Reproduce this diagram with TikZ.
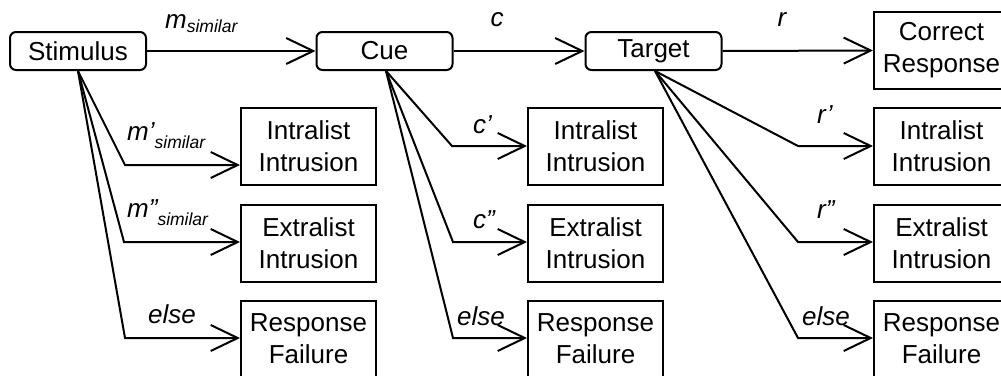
\documentclass[tikz,border=0pt]{standalone}
\usepackage{fontspec}
\setmainfont{Liberation Sans}
\usetikzlibrary{arrows.meta}
\newcommand{\subsm}[1]{{\fontsize{17.5}{18}\selectfont #1}}
\begin{document}
\begin{tikzpicture}[x=1pt,y=-1pt,
  every node/.style={font=\fontsize{26}{32}\selectfont},
  rbox/.style={draw,line width=2pt,rounded corners=6pt,minimum width=136pt,minimum height=38pt,inner sep=0pt},
  sbox/.style={draw,line width=2pt,minimum width=135pt,minimum height=77pt,inner sep=0pt,align=center},
  lab/.style={anchor=base west,inner sep=0pt,font=\fontsize{26}{32}\selectfont\itshape},
  arr/.style={line width=2pt,-{Straight Barb[length=27pt,width=26pt,line width=2pt]}}]
\clip (0,0) rectangle (1001,375);
\fill[white] (0,0) rectangle (1001,375);
% main row
\node[rbox] (stim) at (78,51) {Stimulus};
\node[rbox] (cue) at (384.5,51) {Cue};
\node[rbox] (targ) at (653.5,51) {Target};
\node[sbox] (corr) at (941.5,50.5) {Correct\\Response};
% column 1
\node[sbox] (ii1) at (308.5,146.5) {Intralist\\Intrusion};
\node[sbox] (ei1) at (308.5,243) {Extralist\\Intrusion};
\node[sbox] (rf1) at (308.5,339) {Response\\Failure};
% column 2
\node[sbox] (ii2) at (595.5,146.5) {Intralist\\Intrusion};
\node[sbox] (ei2) at (595.5,243) {Extralist\\Intrusion};
\node[sbox] (rf2) at (595.5,339) {Response\\Failure};
% column 3
\node[sbox] (ii3) at (941.5,146.5) {Intralist\\Intrusion};
\node[sbox] (ei3) at (941.5,243) {Extralist\\Intrusion};
\node[sbox] (rf3) at (941.5,339) {Response\\Failure};
% bend points
\coordinate (b11) at (125,165);
\coordinate (b12) at (124,242);
\coordinate (b13) at (125,338);
\coordinate (b21) at (452,146);
\coordinate (b22) at (453,242);
\coordinate (b23) at (453,338);
\coordinate (b31) at (798,146);
\coordinate (b32) at (798,242);
\coordinate (b33) at (798,338);
% main arrows
\draw[arr] (stim.east) -- (cue.west);
\draw[arr] (cue.east) -- (targ.west);
\draw[arr] (targ.east) -- (corr.west);
% fans
\draw[arr] (stim.south) -- (b11) -- (b11 -| ii1.west);
\draw[arr] (stim.south) -- (b12) -- (b12 -| ei1.west);
\draw[arr] (stim.south) -- (b13) -- (b13 -| rf1.west);
\draw[arr] ([xshift=1.5pt]cue.south) -- (b21) -- (b21 -| ii2.west);
\draw[arr] ([xshift=1.5pt]cue.south) -- (b22) -- (b22 -| ei2.west);
\draw[arr] ([xshift=1.5pt]cue.south) -- (b23) -- (b23 -| rf2.west);
\draw[arr] ([xshift=1.5pt]targ.south) -- (b31) -- (b31 -| ii3.west);
\draw[arr] ([xshift=1.5pt]targ.south) -- (b32) -- (b32 -| ei3.west);
\draw[arr] ([xshift=1.5pt]targ.south) -- (b33) -- (b33 -| rf3.west);
% labels
\node[lab] (lm) at (165,28) {m\raisebox{-4pt}{\subsm{similar}}};
\node[lab,anchor=base] (lc) at (497,26) {c};
\node[lab,anchor=base] (lr) at (782,26) {r};
\node[lab] (lm1) at (127,140) {m’\raisebox{-8pt}{\subsm{similar}}};
\node[lab] (lm2) at (127,217) {m”\raisebox{-8pt}{\subsm{similar}}};
\node[lab] (le1) at (148,323) {else};
\node[lab] (lc1) at (473,133) {c’};
\node[lab] (lc2) at (473,228) {c”};
\node[lab] (le2) at (457,325) {else};
\node[lab] (lr1) at (817,123) {r’};
\node[lab] (lr2) at (817,218) {r”};
\node[lab] (le3) at (802,325) {else};
\end{tikzpicture}
\end{document}
